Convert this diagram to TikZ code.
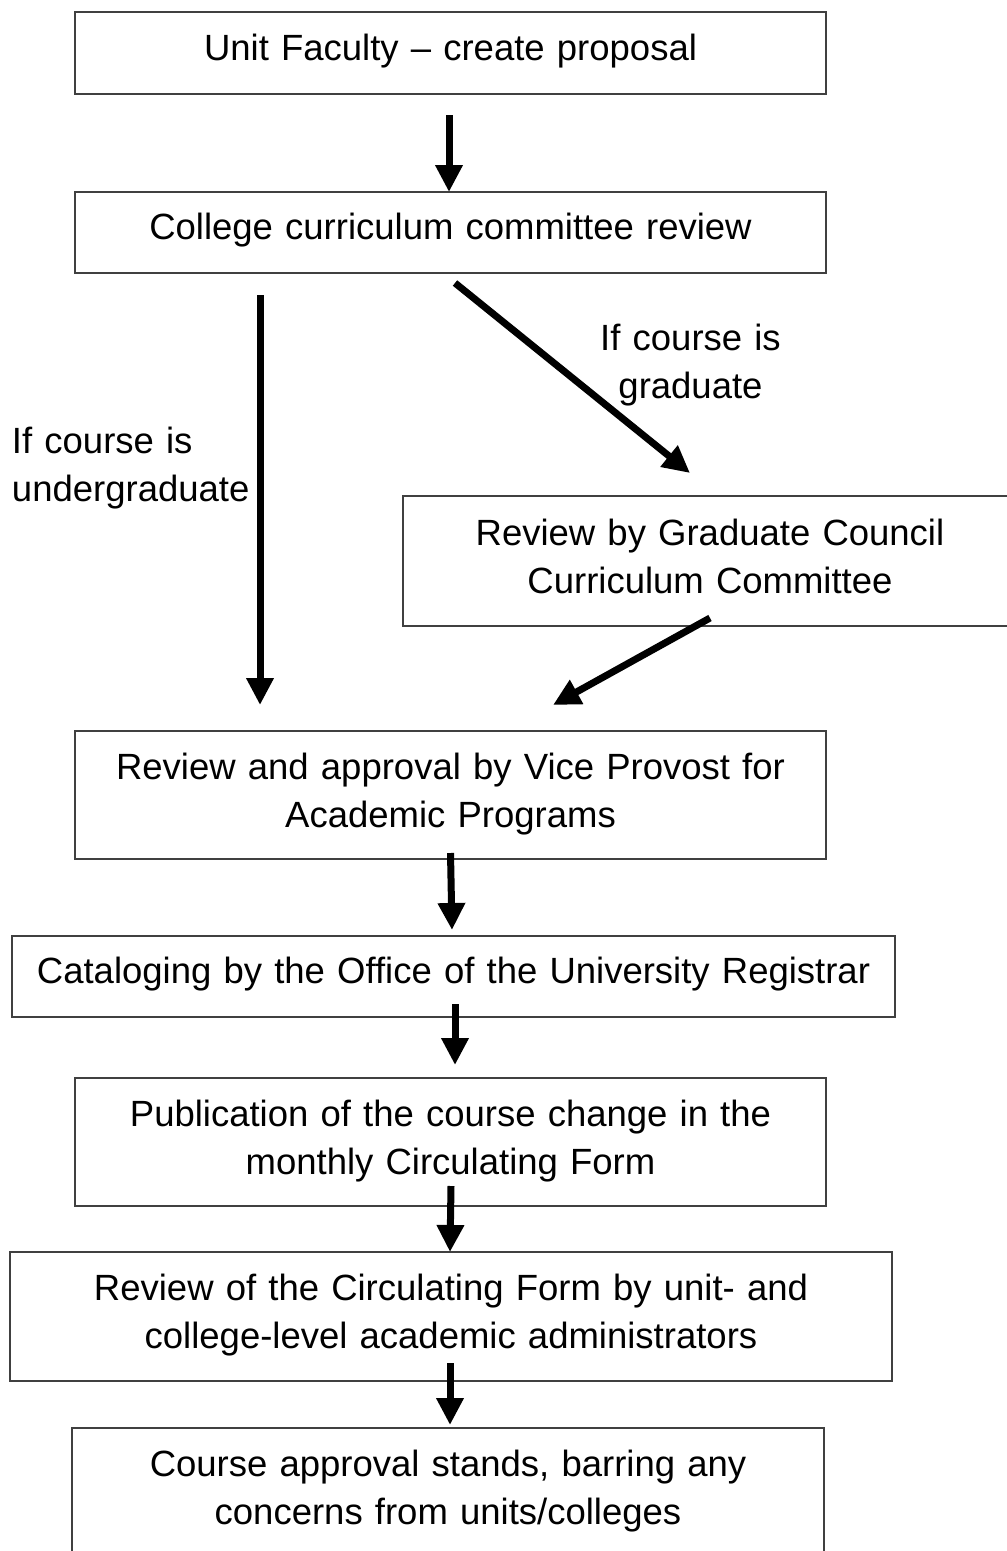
\documentclass[tikz,border=0pt]{standalone}
\usepackage{fontspec}
\setmainfont{Liberation Sans}
\usetikzlibrary{arrows.meta,calc}
\begin{document}
\begin{tikzpicture}[x=1pt,y=-1pt,
  box/.style={draw=black!75, line width=1.5pt, rectangle, inner sep=0pt, outer sep=0pt,
    align=center, font=\fontsize{36.5pt}{48pt}\selectfont, text height=27pt},
  one/.style={text depth=13pt},
  two/.style={text depth=59pt},
  arr/.style={line width=7pt, -{Triangle[width=26pt,length=27pt]}},
  lbl/.style={inner sep=0pt, outer sep=0pt, font=\fontsize{36.5pt}{48pt}\selectfont}
]
\useasboundingbox (0,0) rectangle (1007,1551);

\node[box,one,minimum width=751pt,minimum height=82pt,text width=740pt] (b1) at (450.5,53) {Unit Faculty – create proposal};
\node[box,one,minimum width=751pt,minimum height=81pt,text width=740pt] (b2) at (450.5,232.5) {College curriculum committee review};
\node[box,two,minimum width=614pt,minimum height=130pt,text width=600pt] (b3) at (710,561) {Review by Graduate Council\\Curriculum Committee};
\node[box,two,minimum width=751pt,minimum height=128pt,text width=740pt] (b4) at (450.5,795) {Review and approval by Vice Provost for\\Academic Programs};
\node[box,one,minimum width=883pt,minimum height=81pt,text width=875pt] (b5) at (453.5,976.5) {Cataloging by the Office of the University Registrar};
\node[box,two,minimum width=751pt,minimum height=128pt,text width=740pt] (b6) at (450.5,1142) {Publication of the course change in the\\monthly Circulating Form};
\node[box,two,minimum width=882pt,minimum height=129pt,text width=870pt] (b7) at (451,1316.5) {Review of the Circulating Form by unit- and\\college-level academic administrators};
\node[box,two,minimum width=752pt,minimum height=128pt,text width=740pt] (b8) at (448,1492) {Course approval stands, barring any\\concerns from units/colleges};

\node[lbl,text width=260pt,align=left,anchor=base west] (lug) at (12,453) {If course is\\undergraduate};
\node[lbl,text width=250pt,align=center,anchor=base] (lgr) at (690.5,350) {If course is\\graduate};

\draw[arr] ($(b1.south)+(-1.5,21)$) -- ($(b2.north)+(-1.5,0)$);
\draw[arr] ($(b2.south west)+(185,22)$) -- ($(b4.north west)+(185,-26)$);
\draw[arr] ($(b2.south)+(4.5,10)$) -- ($(b3.north)+(-20,-23)$);
\draw[arr] ($(b3.south)+(0,-8)$) -- ($(b4.north)+(102.5,-26)$);
\draw[arr] ($(b4.south)+(0,-6)$) -- ($(b5.north)+(-1.5,-6)$);
\draw[arr] ($(b5.south)+(1.5,-13)$) -- ($(b6.north)+(4.5,-13)$);
\draw[arr] ($(b6.south)+(0.5,-20)$) -- ($(b7.north)+(-1,0)$);
\draw[arr] ($(b7.south)+(-1,-18)$) -- ($(b8.north)+(2,-3)$);
\end{tikzpicture}
\end{document}
